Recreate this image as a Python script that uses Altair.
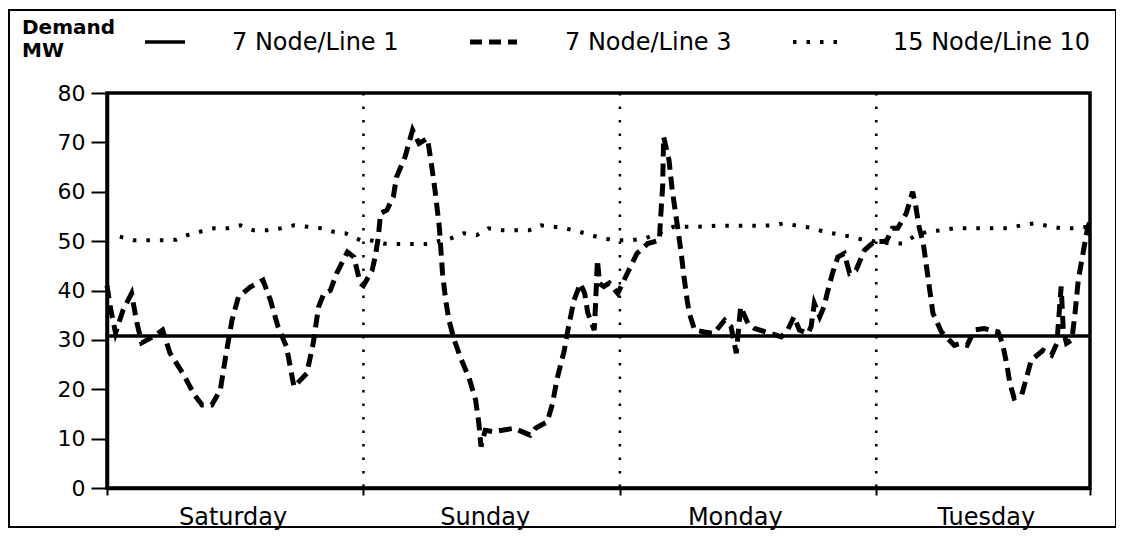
import altair as alt
import pandas as pd

# ---------------- data ----------------
SERIES_NAMES = ["7 Node/Line 1", "7 Node/Line 3", "15 Node/Line 10"]
DAY_NAMES = ["Saturday", "Sunday", "Monday", "Tuesday"]
DAY_LABEL_HOURS = [11.8, 35.4, 58.8, 82.3]
DAY_BOUNDARIES = [24, 48, 72]
X_TICKS = [0, 24, 48, 72, 92]
Y_TICKS = [0, 10, 20, 30, 40, 50, 60, 70, 80]

# 7 Node/Line 1 (solid, flat)
HOURS_L1 = [0, 92]
DEMAND_L1 = [30.8, 30.8]

# 7 Node/Line 3 (dashed)
HOURS_L3 = [0.0, 0.3, 0.8, 1.5, 2.3, 2.8, 3.25, 4.3, 5.2, 5.9, 7.1, 8.2, 8.9, 9.8, 10.6,
            11.1, 11.7, 12.3, 13.4, 14.6, 15.3, 16.0, 16.8, 17.5, 18.7, 19.3, 19.8, 20.3,
            20.9, 21.5, 22.5, 23.1, 23.7, 24.0, 24.8, 25.1, 25.4, 25.6, 26.2, 26.8, 27.1,
            27.9, 28.6, 29.2, 30.0, 30.4, 30.7, 31.1, 31.4, 31.7, 32.0, 32.5, 33.1, 33.9,
            34.5, 34.8, 35.0, 35.4, 36.2, 38.1, 39.6, 40.1, 41.2, 41.7, 42.1, 42.8, 43.2,
            43.7, 44.3, 44.7, 45.0, 45.6, 45.7, 45.9, 46.1, 46.5, 47.0, 47.8, 48.7, 49.6,
            50.6, 51.7, 51.8, 52.0, 52.1, 52.6, 52.9, 53.4, 53.7, 54.0, 54.3, 54.5, 55.0,
            55.9, 56.8, 57.8, 58.4, 58.9, 59.3, 60.0, 60.6, 61.7, 63.1, 63.7, 64.3, 64.8,
            65.6, 65.9, 66.2, 66.7, 67.1, 67.4, 67.9, 68.4, 69.0, 69.5, 70.1, 70.9, 71.8,
            72.7, 73.0, 73.5, 74.0, 74.8, 75.4, 75.7, 76.0, 76.4, 76.7, 77.0, 77.3, 78.1,
            79.3, 79.9, 80.5, 81.2, 82.1, 83.4, 83.8, 84.2, 84.5, 84.9, 85.6, 86.0, 86.5,
            87.6, 88.4, 88.9, 89.3, 89.5, 89.8, 90.3, 90.6, 90.9, 91.4, 91.8, 92.0]
DEMAND_L3 = [41.0, 36.7, 31.4, 36.0, 39.4, 33.4, 29.4, 30.6, 32.0, 27.3, 23.2, 18.8, 16.8, 16.8, 19.8,
             26.6, 34.0, 38.7, 40.7, 42.1, 38.0, 32.7, 28.6, 20.5, 23.2, 29.3, 36.7, 39.4,
             40.0, 43.5, 47.8, 46.8, 41.5, 41.0, 44.0, 46.8, 50.9, 55.6, 56.3, 59.0, 63.0,
             67.1, 72.5, 69.8, 70.8, 65.0, 60.3, 52.9, 43.5, 38.0, 34.0, 30.0, 26.3, 22.2,
             17.8, 13.1, 8.4, 11.7, 11.4, 12.1, 10.7, 12.1, 13.4, 17.1, 21.9, 27.9, 32.7,
             38.0, 41.4, 39.5, 35.4, 32.0, 36.0, 46.2, 41.4, 40.8, 41.5, 39.4, 43.5, 47.5,
             49.5, 50.2, 54.3, 61.0, 71.1, 66.4, 60.3, 52.9, 48.2, 42.8, 38.0, 35.4, 32.0,
             31.6, 31.3, 34.0, 32.7, 27.3, 36.7, 33.3, 32.3, 31.6, 30.6, 32.0, 34.7, 32.0,
             31.3, 32.7, 37.4, 34.7, 36.7, 39.4, 43.5, 46.8, 47.5, 43.5, 44.1, 48.2, 49.9,
             49.9, 50.2, 52.6, 52.6, 55.6, 60.0, 57.0, 52.9, 49.5, 44.8, 40.1, 35.4, 31.6,
             28.9, 29.3, 28.9, 32.0, 32.3, 31.6, 29.3, 25.2, 21.2, 18.2, 18.8, 21.9, 25.9,
             27.9, 26.9, 29.3, 40.8, 32.0, 29.3, 30.0, 35.4, 42.1, 48.2, 52.9, 54.0]

# 15 Node/Line 10 (dotted)
HOURS_L10 = [1.2, 2.5, 4.0, 5.5, 6.5, 7.5, 8.7, 10.0, 11.3, 12.5, 13.7, 15.0, 16.3, 17.5, 18.8,
             20.1, 21.2, 22.3, 23.7, 24.6, 25.9, 27.1, 28.5, 29.8, 31.0, 32.1, 33.4, 34.6,
             35.7, 37.0, 38.3, 39.5, 40.6, 41.8, 42.9, 44.2, 45.3, 46.5, 47.8, 49.1, 50.3,
             51.5, 53.0, 55.2, 57.0, 59.0, 61.0, 62.2, 63.4, 64.6, 65.9, 67.1, 68.4, 69.6,
             70.9, 72.1, 73.3, 74.5, 75.7, 76.8, 78.1, 79.3, 81.0, 82.7, 84.3, 85.6, 86.8,
             88.0, 89.3, 90.6, 91.8]
DEMAND_L10 = [50.9, 50.2, 50.2, 50.2, 50.3, 51.2, 51.9, 52.6, 52.6, 53.2, 52.2, 52.2, 52.6, 53.2, 52.9,
              52.6, 51.9, 51.6, 50.2, 50.2, 49.5, 49.4, 49.4, 49.4, 50.0, 50.5, 51.6, 51.2,
              52.6, 52.2, 52.2, 52.2, 53.2, 52.9, 52.6, 51.9, 51.2, 50.5, 50.2, 50.2, 50.5,
              51.5, 52.9, 52.9, 53.1, 53.1, 53.1, 53.2, 53.6, 53.1, 52.7, 51.9, 51.4, 50.9,
              50.2, 49.9, 49.5, 49.5, 51.2, 51.9, 52.2, 52.6, 52.6, 52.6, 52.6, 53.2, 53.6,
              53.1, 52.6, 52.6, 52.9]

# ---------------- tables ----------------
df_l1 = pd.DataFrame({"h": HOURS_L1, "mw": DEMAND_L1, "i": range(len(HOURS_L1))})
df_l3 = pd.DataFrame({"h": HOURS_L3, "mw": DEMAND_L3, "i": range(len(HOURS_L3))})
df_l10 = pd.DataFrame({"h": HOURS_L10, "mw": DEMAND_L10, "i": range(len(HOURS_L10))})
df_days = pd.DataFrame({"h": DAY_LABEL_HOURS, "day": DAY_NAMES})
df_bounds = pd.DataFrame({"h": DAY_BOUNDARIES})
one = pd.DataFrame({"k": [0]})

FONT = "DejaVu Sans"
W, H = 983, 395

X = alt.X("h:Q", scale=alt.Scale(domain=[0, 92], nice=False, zero=False),
          axis=alt.Axis(values=X_TICKS, labels=False, title=None, grid=False,
                        tickSize=7, tickWidth=2, tickColor="black",
                        domainWidth=3.5, domainColor="black"))
Y = alt.Y("mw:Q", scale=alt.Scale(domain=[0, 80], nice=False),
          axis=alt.Axis(values=Y_TICKS, title=None, grid=False, tickSize=16, tickWidth=2,
                        tickColor="black", domainWidth=3.5, domainColor="black",
                        labelFont=FONT, labelFontSize=22, labelColor="black",
                        labelPadding=6))

bounds = alt.Chart(df_bounds).mark_rule(color="black", strokeWidth=2.5,
                                         strokeDash=[2.5, 11]).encode(x=X)
line1 = alt.Chart(df_l1).mark_line(color="black", strokeWidth=3.5).encode(x=X, y=Y, order="i:Q")
line3 = alt.Chart(df_l3).mark_line(color="black", strokeWidth=5,
                                    strokeDash=[13, 7]).encode(x=X, y=Y, order="i:Q")
line10 = alt.Chart(df_l10).mark_line(color="black", strokeWidth=4,
                                      strokeDash=[3.5, 10]).encode(x=X, y=Y, order="i:Q")

days = alt.Chart(df_days).mark_text(font=FONT, fontSize=24, color="black",
                                     align="center", baseline="alphabetic").encode(
    x=X, y=alt.value(432), text="day:N")

# title "Demand MW"
t1 = alt.Chart(one).mark_text(text="Demand", font=FONT, fontWeight="bold", fontSize=20,
                              align="left", baseline="alphabetic", color="black").encode(
    x=alt.value(-85), y=alt.value(-59))
t2 = alt.Chart(one).mark_text(text="MW", font=FONT, fontWeight="bold", fontSize=20,
                              align="left", baseline="alphabetic", color="black").encode(
    x=alt.value(-85), y=alt.value(-36))

# legend
LEG_Y = -51
LEG_BASE = -43
sym1 = alt.Chart(one).mark_rule(color="black", strokeWidth=3.5).encode(
    x=alt.value(38), x2=alt.value(78), y=alt.value(LEG_Y))
sym2 = alt.Chart(one).mark_rule(color="black", strokeWidth=5, strokeDash=[12, 7]).encode(
    x=alt.value(363), x2=alt.value(410), y=alt.value(LEG_Y))
sym3 = alt.Chart(one).mark_rule(color="black", strokeWidth=4, strokeDash=[3.5, 10]).encode(
    x=alt.value(686), x2=alt.value(733), y=alt.value(LEG_Y))
lab = []
for name, xpos in zip(SERIES_NAMES, [125, 458, 786]):
    lab.append(alt.Chart(one).mark_text(text=name, font=FONT, fontSize=24, color="black",
                                        align="left", baseline="alphabetic").encode(
        x=alt.value(xpos), y=alt.value(LEG_BASE)))

frame = alt.Chart(one).mark_rect(fill="transparent", stroke="black", strokeWidth=2).encode(
    x=alt.value(-98), x2=alt.value(1009), y=alt.value(-83), y2=alt.value(434))

chart = alt.layer(bounds, line1, line3, line10, days, t1, t2, sym1, sym2, sym3, *lab, frame).properties(
    width=W, height=H,
    padding={"left": 99, "top": 85, "right": 26, "bottom": 42},
    autosize=alt.AutoSizeParams(type="none"),
    background="white",
).configure_view(stroke="black", strokeWidth=3.5)

chart.save("out.html", embed_options={"renderer": "svg", "actions": False})
